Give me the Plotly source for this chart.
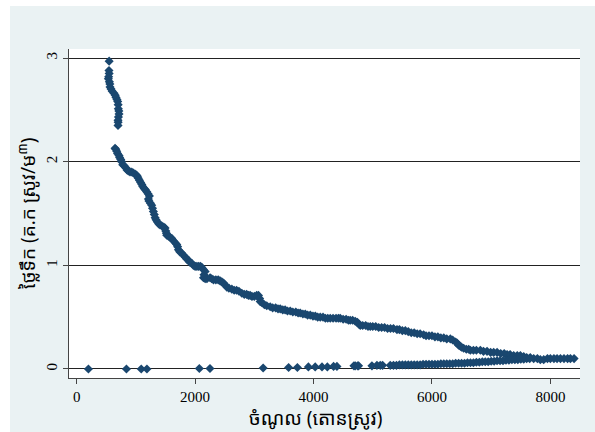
import plotly.graph_objects as go

# Upper (main) declining curve: revenue (tonnes of paddy) vs water price
curve_x = [548, 545, 548, 540, 535, 552, 560, 563, 580, 600, 630, 650, 664, 680, 693, 700, 703, 712, 715, 705, 698, 700, 698,
           648, 660, 676, 690, 715, 725, 744, 760, 778, 800, 833, 850, 872, 900, 930, 957, 985, 1010, 1025, 1040, 1059, 1080,
           1100, 1115, 1140, 1160, 1183, 1205, 1228, 1211, 1220, 1245, 1267, 1280, 1295, 1310, 1325, 1340, 1360, 1385, 1408,
           1440, 1470, 1493, 1505, 1515, 1521, 1550, 1577, 1606, 1630, 1660, 1690, 1705, 1718, 1740, 1770, 1802, 1830, 1860,
           1887, 1910, 1944, 1971, 2000, 2030, 2060, 2090, 2113, 2140, 2169, 2150, 2141, 2170, 2200, 2253, 2280, 2310, 2350,
           2390, 2422, 2451, 2480, 2507, 2535, 2570, 2620, 2660, 2700, 2740, 2789, 2830, 2870, 2901, 2929, 2960, 3000, 3040,
           3070, 3090, 3099, 3130, 3170, 3210, 3268, 3310, 3360, 3400, 3437, 3480, 3520, 3560, 3606, 3650, 3700, 3740, 3775,
           3820, 3860, 3900, 3944, 3990, 4030, 4070, 4113, 4160, 4200, 4240, 4282, 4330, 4380, 4420, 4451, 4500, 4550, 4590,
           4620, 4660, 4704, 4740, 4770, 4789, 4830, 4880, 4920, 4958, 5000, 5050, 5100, 5150, 5200, 5250, 5300, 5350, 5409,
           5450, 5500, 5550, 5600, 5650, 5700, 5750, 5800, 5859, 5900, 5950, 6000, 6050, 6100, 6150, 6200, 6250, 6310, 6350,
           6400, 6423, 6450, 6480, 6500, 6535, 6580, 6620, 6648, 6700, 6750, 6817, 6870, 6930, 6990, 7042, 7100, 7160, 7220,
           7268, 7320, 7380, 7440, 7493, 7550, 7600, 7660, 7718, 7780, 7830, 7887, 7950, 8000, 8060, 8113, 8170, 8230, 8290,
           8338, 8400]
curve_y = [2.97, 2.88, 2.85, 2.82, 2.80, 2.77, 2.75, 2.72, 2.70, 2.68, 2.66, 2.64, 2.62, 2.60, 2.58, 2.55, 2.51, 2.49, 2.46, 2.43, 2.40, 2.38, 2.35,
           2.13, 2.12, 2.10, 2.08, 2.06, 2.04, 2.02, 2.00, 1.97, 1.96, 1.94, 1.92, 1.91, 1.90, 1.90, 1.89, 1.88, 1.87, 1.86, 1.84, 1.82, 1.80,
           1.78, 1.76, 1.74, 1.73, 1.71, 1.69, 1.67, 1.64, 1.62, 1.60, 1.58, 1.55, 1.52, 1.49, 1.46, 1.44, 1.42, 1.40, 1.39,
           1.38, 1.37, 1.36, 1.33, 1.31, 1.29, 1.28, 1.27, 1.26, 1.24, 1.22, 1.20, 1.18, 1.15, 1.13, 1.12, 1.10, 1.08, 1.06,
           1.05, 1.03, 1.02, 1.00, 0.99, 0.99, 0.99, 0.99, 0.98, 0.96, 0.94, 0.91, 0.88, 0.87, 0.87, 0.88, 0.87, 0.86, 0.86,
           0.86, 0.85, 0.84, 0.83, 0.81, 0.79, 0.78, 0.77, 0.76, 0.76, 0.75, 0.73, 0.72, 0.72, 0.71, 0.71, 0.70, 0.70, 0.71,
           0.71, 0.68, 0.65, 0.64, 0.62, 0.61, 0.60, 0.59, 0.59, 0.58, 0.58, 0.57, 0.57, 0.56, 0.56, 0.55, 0.55, 0.54, 0.54,
           0.53, 0.53, 0.52, 0.52, 0.51, 0.51, 0.50, 0.50, 0.50, 0.49, 0.49, 0.49, 0.49, 0.49, 0.49, 0.49, 0.48, 0.48, 0.47,
           0.47, 0.47, 0.46, 0.45, 0.43, 0.42, 0.42, 0.42, 0.41, 0.41, 0.41, 0.41, 0.40, 0.40, 0.40, 0.39, 0.39, 0.39, 0.38,
           0.38, 0.37, 0.37, 0.36, 0.35, 0.35, 0.34, 0.34, 0.33, 0.32, 0.32, 0.32, 0.31, 0.31, 0.30, 0.30, 0.29, 0.29, 0.28,
           0.26, 0.25, 0.23, 0.22, 0.21, 0.20, 0.19, 0.19, 0.18, 0.18, 0.18, 0.18, 0.17, 0.17, 0.16, 0.16, 0.16, 0.15, 0.15,
           0.14, 0.14, 0.13, 0.13, 0.13, 0.12, 0.11, 0.11, 0.10, 0.10, 0.09, 0.09, 0.10, 0.10, 0.10, 0.10, 0.10, 0.10, 0.10,
           0.10, 0.10]

# Lower series near zero
low_x = [198, 840, 1090, 1186, 2071, 2251, 3149, 3579, 3727, 3913, 4028, 4143, 4233, 4338, 4395, 4682, 4746, 4704, 4760,
         4986, 5071, 5127, 5166, 5296, 5350, 5400, 5450, 5500, 5550, 5600, 5650, 5700, 5750, 5800, 5850, 5900, 5950, 6000,
         6050, 6100, 6150, 6200, 6250, 6300, 6350, 6400, 6450, 6500, 6550, 6600, 6650, 6700, 6750, 6800, 6850, 6900,
         6950, 7000, 7050, 7100, 7150, 7200, 7250, 7300, 7350, 7400, 7450, 7500, 7550, 7600, 7650]
low_y = [0.00, 0.00, 0.00, 0.00, 0.005, 0.005, 0.01, 0.015, 0.015, 0.02, 0.02, 0.02, 0.02, 0.025, 0.025, 0.03, 0.03, 0.03, 0.03,
         0.03, 0.035, 0.035, 0.035, 0.035, 0.035, 0.035, 0.04, 0.04, 0.04, 0.04, 0.04, 0.04, 0.04, 0.04, 0.045, 0.045, 0.045, 0.045,
         0.045, 0.045, 0.05, 0.05, 0.05, 0.05, 0.05, 0.055, 0.055, 0.055, 0.055, 0.06, 0.06, 0.06, 0.065, 0.065, 0.07, 0.07,
         0.07, 0.075, 0.075, 0.08, 0.08, 0.08, 0.085, 0.085, 0.09, 0.09, 0.09, 0.095, 0.095, 0.10, 0.10]

x_ticks = [0, 2000, 4000, 6000, 8000]
y_ticks = [0, 1, 2, 3]
x_title = "ចំណូល (តោនស្រូវ)"
y_title = "ថ្លៃទឹក (គ.ក ស្រូវ/ម<sup>៣</sup>)"

W, H = 595, 432
ML, MR, MT, MB = 69, 15, 49, 54
pw, ph = W - ML - MR, H - MT - MB

color = "#1a476f"
khmer_font = "Noto Sans Khmer, Khmer OS, Khmer OS System, Liberation Serif, serif"
num_font = "Liberation Serif, Times New Roman, serif"

fig = go.Figure()
for xs, ys in [(curve_x, curve_y), (low_x, low_y)]:
    fig.add_trace(go.Scatter(x=xs, y=ys, mode="markers",
                             marker=dict(symbol="diamond", size=7, color=color, line=dict(width=0)),
                             showlegend=False, hoverinfo="x+y"))

# light outer panel and white plot region
fig.add_shape(type="rect", xref="paper", yref="paper", layer="below",
              x0=(10 - ML) / pw, x1=(W - ML) / pw, y0=-(MB) / ph, y1=(ph + MT - 6) / ph,
              fillcolor="#eaf2f3", line=dict(width=0))
fig.add_shape(type="rect", xref="paper", yref="paper", layer="below",
              x0=0, x1=1, y0=0, y1=1, fillcolor="white", line=dict(width=0))

# axis titles as annotations (pixel-placed)
fig.add_annotation(text=x_title, xref="paper", yref="paper", x=(316 - ML) / pw, y=-(418 - (MT + ph)) / ph,
                   showarrow=False, xanchor="center", yanchor="middle",
                   font=dict(size=19, family=khmer_font, color="#000"))
fig.add_annotation(text=y_title, xref="paper", yref="paper", x=-(ML - 27) / pw, y=(MT + ph - 214) / ph,
                   showarrow=False, xanchor="center", yanchor="middle", textangle=-90,
                   font=dict(size=19, family=khmer_font, color="#000"))

fig.update_layout(
    width=W, height=H,
    margin=dict(l=ML, r=MR, t=MT, b=MB, autoexpand=False),
    paper_bgcolor="white", plot_bgcolor="white",
    font=dict(family=num_font, color="#000"),
    xaxis=dict(range=[-130, 8500], tickvals=x_ticks, ticktext=[str(v) for v in x_ticks], automargin=False,
               showgrid=False, zeroline=False, showline=True, linecolor="#444", linewidth=1,
               ticks="outside", ticklen=5, tickcolor="#444", tickfont=dict(size=15, family=num_font)),
    yaxis=dict(range=[-0.087, 3.087], tickvals=y_ticks, ticktext=[str(v) for v in y_ticks], tickangle=-90,
               automargin=False,
               showgrid=True, gridcolor="#222", gridwidth=1, zeroline=False, showline=True, linecolor="#444", linewidth=1,
               ticks="outside", ticklen=5, tickcolor="#444", tickfont=dict(size=15, family=num_font)),
)

fig.write_html("out.html", config={"displayModeBar": False},
               post_script="document.body.style.margin='0';")
